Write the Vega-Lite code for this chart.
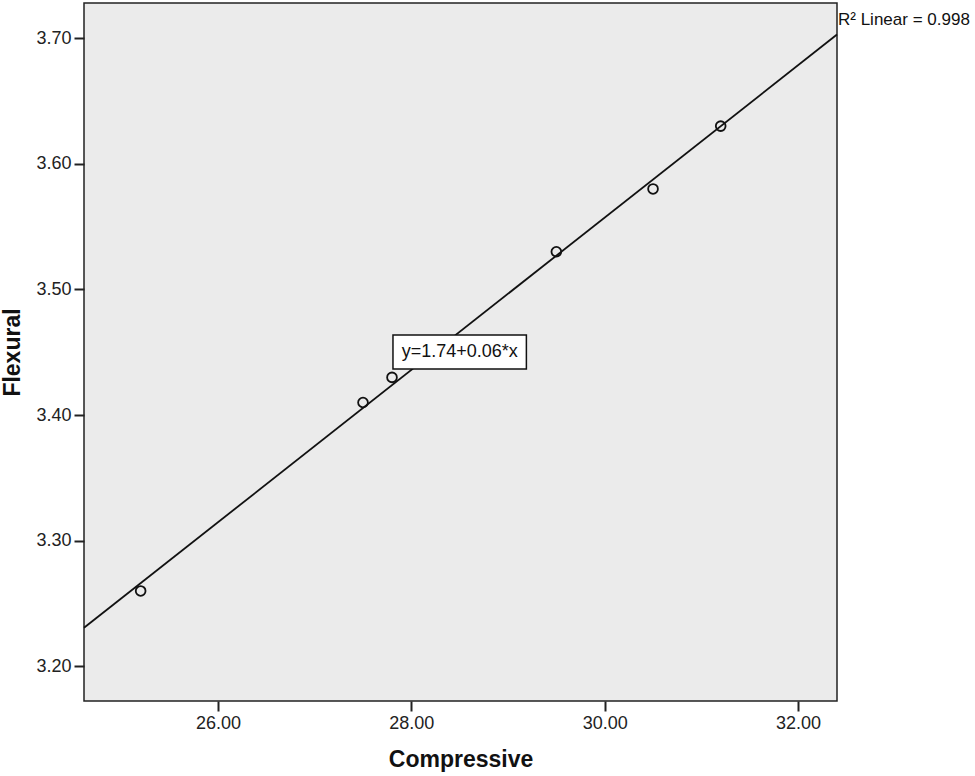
{
  "$schema": "https://vega.github.io/schema/vega-lite/v6.json",
  "autosize": "none",
  "width": 753,
  "height": 698,
  "padding": {"left": 84, "top": 3, "right": 138, "bottom": 75},
  "background": "white",
  "config": {
    "font": "Liberation Sans",
    "view": {"fill": "#ebebeb", "stroke": "#222222", "strokeWidth": 1.5},
    "axis": {
      "domain": false,
      "grid": false,
      "tickColor": "#222222",
      "tickWidth": 2,
      "tickSize": 10,
      "labelFontSize": 18,
      "labelColor": "#222222",
      "labelFont": "Liberation Sans",
      "titleFont": "Liberation Sans",
      "titleFontSize": 23,
      "titleFontWeight": "bold",
      "titleColor": "#111111"
    }
  },
  "datasets": {
    "points": [
      {"Compressive": 25.2, "Flexural": 3.26},
      {"Compressive": 27.5, "Flexural": 3.41},
      {"Compressive": 27.8, "Flexural": 3.43},
      {"Compressive": 29.5, "Flexural": 3.53},
      {"Compressive": 30.5, "Flexural": 3.58},
      {"Compressive": 31.2, "Flexural": 3.63}
    ],
    "eqbox": [
      {"x1": 27.81, "x2": 29.19, "y1": 3.4367, "y2": 3.4637, "xc": 28.5, "yc": 3.4502, "label": "y=1.74+0.06*x"}
    ],
    "r2": [
      {"x": 32.403, "y": 3.7106, "label": "R² Linear = 0.998"}
    ]
  },
  "layer": [
    {
      "data": {"name": "points"},
      "transform": [
        {"regression": "Flexural", "on": "Compressive", "method": "linear", "extent": [24.614, 32.403]}
      ],
      "mark": {"type": "line", "color": "#111111", "strokeWidth": 1.8},
      "encoding": {
        "x": {
          "field": "Compressive", "type": "quantitative",
          "scale": {"domain": [24.614, 32.403], "nice": false, "zero": false},
          "axis": {"values": [26, 28, 30, 32], "format": ".2f", "labelPadding": 3, "title": "Compressive", "titlePadding": 16}
        },
        "y": {
          "field": "Flexural", "type": "quantitative",
          "scale": {"domain": [3.1724, 3.728], "nice": false, "zero": false},
          "axis": {"values": [3.2, 3.3, 3.4, 3.5, 3.6, 3.7], "format": ".2f", "labelPadding": 3, "title": "Flexural", "titlePadding": 11}
        }
      }
    },
    {
      "data": {"name": "points"},
      "mark": {"type": "point", "shape": "circle", "size": 95, "filled": false, "stroke": "#111111", "strokeWidth": 1.8, "opacity": 1},
      "encoding": {
        "x": {"field": "Compressive", "type": "quantitative"},
        "y": {"field": "Flexural", "type": "quantitative"}
      }
    },
    {
      "data": {"name": "eqbox"},
      "mark": {"type": "rect", "fill": "white", "stroke": "#111111", "strokeWidth": 1.5},
      "encoding": {
        "x": {"field": "x1", "type": "quantitative"},
        "x2": {"field": "x2"},
        "y": {"field": "y1", "type": "quantitative"},
        "y2": {"field": "y2"}
      }
    },
    {
      "data": {"name": "eqbox"},
      "mark": {"type": "text", "fontSize": 18, "color": "#111111", "align": "center", "baseline": "middle", "font": "Liberation Sans"},
      "encoding": {
        "x": {"field": "xc", "type": "quantitative"},
        "y": {"field": "yc", "type": "quantitative"},
        "text": {"field": "label"}
      }
    },
    {
      "data": {"name": "r2"},
      "mark": {"type": "text", "fontSize": 17, "color": "#111111", "align": "left", "baseline": "alphabetic", "dx": 1, "font": "Liberation Sans"},
      "encoding": {
        "x": {"field": "x", "type": "quantitative"},
        "y": {"field": "y", "type": "quantitative"},
        "text": {"field": "label"}
      }
    }
  ]
}
